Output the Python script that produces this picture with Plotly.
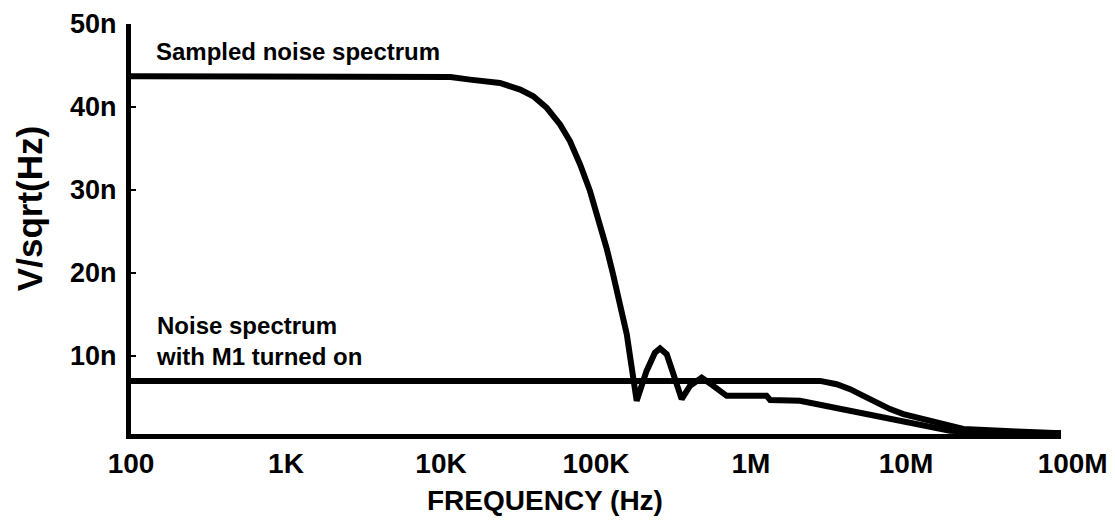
import plotly.graph_objects as go

# ---- data (frequency in Hz, noise in nV/sqrt(Hz)) ----
freq_sampled = [1e2, 1.15e4, 1.54e4, 2.40e4, 3.24e4, 3.94e4, 4.81e4, 5.86e4, 6.79e4,
                7.89e4, 9.14e4, 1.035e5, 1.17e5, 1.29e5, 1.43e5, 1.58e5, 1.70e5, 1.83e5,
                2.12e5, 2.40e5, 2.59e5, 2.86e5, 3.16e5, 3.57e5, 4.04e5, 4.81e5, 5.71e5,
                6.97e5, 1.26e6, 1.33e6, 2.07e6, 2.65e6, 4.36e6, 7.14e6, 1.06e7, 1.58e7,
                1.92e7, 3.16e7, 5.20e7, 1e8]
v_sampled = [43.7, 43.6, 43.3, 42.9, 42.1, 41.3, 39.9, 37.9, 35.9,
             33.1, 29.9, 26.7, 23.0, 19.8, 16.2, 12.6, 8.6, 4.6,
             8.2, 10.4, 10.9, 10.2, 7.8, 4.8, 6.4, 7.4, 6.4,
             5.2, 5.2, 4.7, 4.6, 4.2, 3.4, 2.6, 2.0, 1.4,
             1.0, 0.8, 0.75, 0.7]

freq_m1 = [1e2, 2.79e6, 3.57e6, 4.36e6, 5.31e6, 6.47e6, 7.89e6, 9.62e6, 1.29e7,
           1.74e7, 2.34e7, 5.18e7, 1e8]
v_m1 = [7.0, 7.0, 6.6, 6.0, 5.2, 4.4, 3.6, 3.0, 2.4,
        1.7, 1.2, 0.9, 0.7]

x_tickvals = [1e2, 1e3, 1e4, 1e5, 1e6, 1e7, 1e8]
x_ticktext = ["100", "1K", "10K", "100K", "1M", "10M", "\u00a0\u00a0\u00a0100M"]
y_tickvals = [10, 20, 30, 40, 50]
y_ticktext = ["10n", "20n", "30n", "40n", "50n"]

label_sampled = "Sampled noise spectrum"
label_m1 = "Noise spectrum<br>with M1 turned on"
x_title = "FREQUENCY (Hz)"
y_title = "V/sqrt(Hz)"

sans = "Liberation Sans, Arial, sans-serif"

fig = go.Figure()
fig.add_trace(go.Scatter(x=freq_m1, y=v_m1, mode="lines",
                         line=dict(color="black", width=6), hoverinfo="skip"))
fig.add_trace(go.Scatter(x=freq_sampled, y=v_sampled, mode="lines",
                         line=dict(color="black", width=6), hoverinfo="skip"))

fig.add_annotation(x=2.148, y=46.7, xref="x", yref="y", text=label_sampled,
                   showarrow=False, xanchor="left", yanchor="middle", align="left",
                   font=dict(family=sans, size=24, color="black", weight="bold"))
fig.add_annotation(x=2.148, y=11.8, xref="x", yref="y", text=label_m1,
                   showarrow=False, xanchor="left", yanchor="middle", align="left",
                   font=dict(family=sans, size=24, color="black", weight="bold"))
fig.add_annotation(x=0.4456, y=-0.163, xref="paper", yref="paper", text=x_title,
                   showarrow=False, xanchor="center", yanchor="middle",
                   font=dict(family=sans, size=28, color="black", weight="bold"))
fig.add_annotation(x=-0.109, y=0.55, xref="paper", yref="paper", text=y_title,
                   showarrow=False, xanchor="center", yanchor="middle", textangle=-90,
                   font=dict(family=sans, size=35, color="black", weight="bold"))

fig.update_xaxes(type="log", range=[2, 8], tickvals=x_tickvals, ticktext=x_ticktext,
                 showline=True, linecolor="black", linewidth=5, showgrid=False,
                 zeroline=False, ticks="", automargin=False,
                 tickfont=dict(family=sans, size=28, color="black", weight="bold"))
fig.update_yaxes(range=[0.6, 50], tickvals=y_tickvals, ticktext=y_ticktext,
                 showline=True, linecolor="black", linewidth=5, showgrid=False,
                 zeroline=False, ticks="inside", ticklen=5, tickwidth=2, tickcolor="black",
                 ticklabelstandoff=4, automargin=False,
                 tickfont=dict(family=sans, size=27, color="black", weight="bold"))

fig.update_layout(width=1115, height=526, margin=dict(l=123, r=62, t=16, b=100),
                  plot_bgcolor="white", paper_bgcolor="white", showlegend=False)

fig.write_html("out.html")
